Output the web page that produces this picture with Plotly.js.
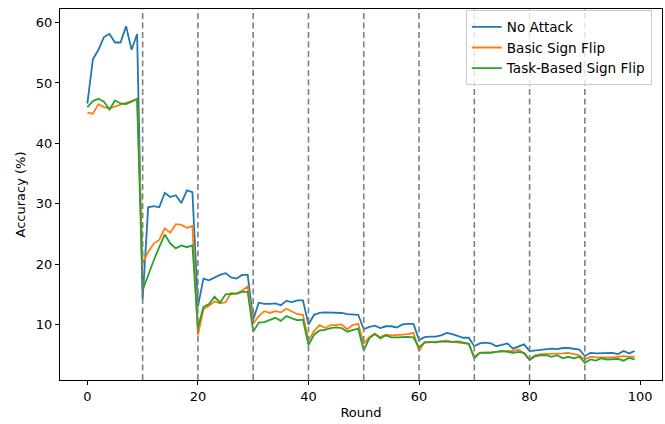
<!DOCTYPE html>
<html>
<head>
<meta charset="utf-8">
<script src="https://cdn.plot.ly/plotly-3.0.1.min.js"></script>
<style>
  html, body { margin: 0; padding: 0; background: #ffffff; }
  #chart { width: 665px; height: 424px; }
</style>
</head>
<body>
<div id="chart"></div>
<script>
// Test accuracy per federated round under three attack settings
const rounds = Array.from({ length: 100 }, (_, i) => i);

const noAttack = [
  46.6, 53.9, 55.5, 57.6, 58.1, 56.7, 56.7, 59.4, 55.5, 58.1,
  14.1, 29.4, 29.6, 29.4, 31.8, 31.1, 31.4, 30.1, 32.2, 31.9,
  13.0, 17.6, 17.3, 17.8, 18.2, 18.5, 17.8, 17.6, 18.2, 18.2,
  10.8, 13.6, 13.4, 13.4, 13.5, 13.2, 13.9, 13.7, 14.0, 14.0,
  10.0, 11.6, 11.9, 12.0, 12.0, 12.0, 11.9, 11.7, 11.7, 11.6,
  9.2, 9.6, 9.8, 9.4, 9.7, 9.7, 9.5, 10.0, 10.1, 10.1,
  7.4, 7.9, 8.0, 8.0, 8.2, 8.6, 8.4, 8.1, 7.8, 7.8,
  6.4, 6.85, 7.0, 6.85, 6.4, 6.6, 6.85, 6.0, 6.4, 6.7,
  5.6, 5.7, 5.9, 6.0, 6.0, 5.9, 6.1, 6.1, 6.0, 5.85,
  4.75, 5.3, 5.2, 5.25, 5.2, 5.3, 5.1, 5.6, 5.2, 5.6
];

const basicSignFlip = [
  45.1, 44.9, 46.5, 46.0, 45.8, 46.1, 46.4, 46.6, 47.0, 47.3,
  20.1, 22.0, 23.4, 24.0, 25.9, 25.2, 26.6, 26.5, 26.0, 26.3,
  8.2, 12.5, 13.1, 13.8, 13.5, 13.7, 15.2, 15.1, 15.6, 16.3,
  10.1, 11.4, 12.2, 11.9, 12.2, 12.0, 12.6, 12.1, 11.7, 11.6,
  7.4, 8.9, 9.9, 9.4, 9.9, 9.9, 10.0, 9.2, 9.9, 10.1,
  6.8, 7.9, 8.5, 7.9, 8.3, 8.2, 8.2, 8.3, 8.4, 8.6,
  5.6, 7.1, 7.1, 7.0, 7.2, 7.3, 7.1, 7.0, 7.0, 6.8,
  4.65, 5.35, 5.35, 5.45, 5.55, 5.55, 5.6, 5.6, 5.85, 5.2,
  4.2, 4.9, 5.1, 5.1, 5.1, 5.1, 5.2, 5.3, 5.1, 4.9,
  4.2, 4.65, 4.55, 4.55, 4.45, 4.55, 4.65, 4.75, 4.65, 4.65
];

const taskBasedSignFlip = [
  46.0, 47.0, 47.4, 46.9, 45.6, 47.1, 46.6, 46.5, 46.9, 47.4,
  15.7, 18.2, 20.6, 22.8, 24.9, 23.4, 22.6, 23.1, 22.8, 23.1,
  9.4, 12.9, 13.4, 14.6, 13.6, 15.0, 15.1, 15.1, 15.4, 15.4,
  8.8, 10.3, 10.4, 10.7, 11.1, 10.6, 11.4, 11.0, 10.7, 10.8,
  6.6, 8.3, 9.0, 9.1, 9.4, 9.5, 9.4, 8.8, 9.0, 9.3,
  5.7, 7.7, 8.4, 7.7, 8.2, 7.85, 7.85, 7.95, 7.95, 7.85,
  6.2, 7.0, 7.0, 7.1, 7.2, 7.1, 7.1, 7.2, 7.0, 6.8,
  4.4, 5.3, 5.35, 5.3, 5.45, 5.6, 5.45, 5.3, 5.45, 5.3,
  4.1, 4.75, 4.9, 4.9, 4.65, 4.9, 4.4, 4.65, 4.4, 4.65,
  3.65, 4.2, 4.0, 4.4, 4.2, 4.2, 4.3, 4.0, 4.45, 4.2
];

const seriesNames = ["No Attack", "Basic Sign Flip", "Task-Based Sign Flip"];
const seriesColors = ["#1f77b4", "#ff7f0e", "#2ca02c"];
const seriesValues = [noAttack, basicSignFlip, taskBasedSignFlip];

// Rounds at which the task changes
const taskBoundaries = [10, 20, 30, 40, 50, 60, 70, 80, 90];
const xTicks = [0, 20, 40, 60, 80, 100];
const yTicks = [10, 20, 30, 40, 50, 60];

const traces = seriesValues.map((vals, i) => ({
  x: rounds,
  y: vals,
  type: "scatter",
  mode: "lines",
  name: seriesNames[i],
  line: { color: seriesColors[i], width: 1.8 }
}));

const boundaryShapes = taskBoundaries.map(b => ({
  type: "line",
  xref: "x", yref: "paper",
  x0: b, x1: b, y0: 0, y1: 1,
  line: { color: "#808080", width: 1.6, dash: "6px,3.5px" }
}));

const font = { family: "DejaVu Sans, sans-serif", size: 13, color: "#000000" };
const legendFont = { family: "DejaVu Sans, sans-serif", size: 13.6, color: "#000000" };

const axisCommon = {
  showgrid: false,
  zeroline: false,
  showline: true,
  mirror: true,
  linecolor: "#000000",
  linewidth: 1,
  ticks: "outside",
  ticklen: 4,
  tickwidth: 1,
  tickcolor: "#000000",
  tickfont: font
};

const layout = {
  width: 665,
  height: 424,
  margin: { l: 60, r: 3, t: 9, b: 44 },
  paper_bgcolor: "#ffffff",
  plot_bgcolor: "#ffffff",
  font: font,
  showlegend: true,
  legend: {
    x: 0.983, y: 0.996,
    xanchor: "right", yanchor: "top",
    bgcolor: "rgba(255,255,255,0.8)",
    bordercolor: "#cccccc",
    borderwidth: 1,
    font: legendFont,
    tracegroupgap: 0
  },
  xaxis: Object.assign({}, axisCommon, {
    range: [-4.95, 103.95],
    tickmode: "array",
    tickvals: xTicks,
    title: { text: "Round", font: font, standoff: 5 }
  }),
  yaxis: Object.assign({}, axisCommon, {
    range: [0.8, 62.25],
    tickmode: "array",
    tickvals: yTicks,
    title: { text: "Accuracy (%)", font: font, standoff: 7 }
  }),
  shapes: boundaryShapes
};

Plotly.newPlot("chart", traces, layout, { staticPlot: true, displayModeBar: false });
</script>
</body>
</html>
